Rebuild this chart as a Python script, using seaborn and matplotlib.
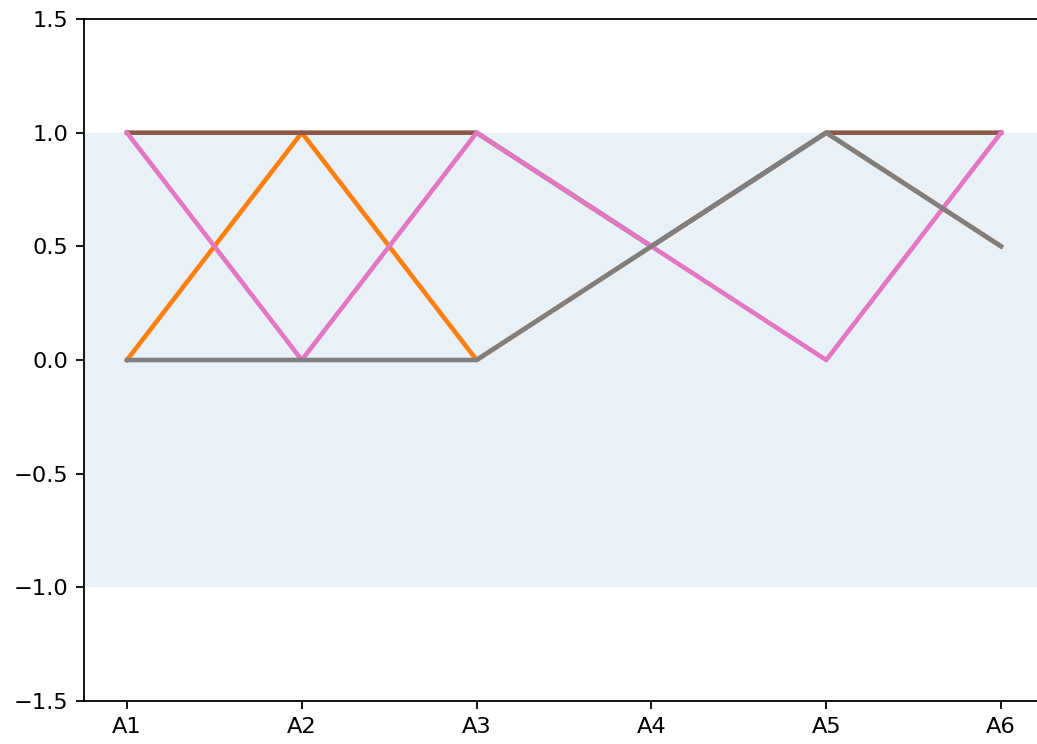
import matplotlib
matplotlib.use("Agg")
import matplotlib.pyplot as plt
import seaborn as sns
import pandas as pd

axes_labels = ["A1", "A2", "A3", "A4", "A5", "A6"]
series_names = ["s1", "s5", "s6", "s7"]
series_orange = [0, 1, 0, 0.5, 1, 0.5]
series_brown = [1, 1, 1, 0.5, 1, 1]
series_pink = [1, 0, 1, 0.5, 0, 1]
series_gray = [0, 0, 0, 0.5, 1, 0.5]
series_colors = ["#ff7f0e", "#8c564b", "#e377c2", "#7f7f7f"]

all_values = [series_orange, series_brown, series_pink, series_gray]
rows = []
for name, vals in zip(series_names, all_values):
    for i, v in enumerate(vals):
        rows.append({"series": name, "pos": i, "value": v})
df = pd.DataFrame(rows)

s = 1.62
plt.rcParams.update({
    "font.size": 10 * s,
    "axes.linewidth": 0.8 * s,
    "xtick.major.size": 3.5 * s,
    "ytick.major.size": 3.5 * s,
    "xtick.major.width": 0.8 * s,
    "ytick.major.width": 0.8 * s,
    "xtick.major.pad": 3.5 * s,
    "ytick.major.pad": 3.5 * s,
})

fig = plt.figure(figsize=(10.37, 7.44), dpi=100)
W, H = 1037, 744
ax = fig.add_axes([84 / W, (H - 701) / H, (1045 - 84) / W, (701 - 19) / H])

ax.axhspan(-1, 1, color="#1f77b4", alpha=0.1, lw=0, zorder=0)

sns.lineplot(data=df, x="pos", y="value", hue="series", hue_order=series_names,
             palette=series_colors, linewidth=3.3, legend=False, ax=ax,
             estimator=None, sort=False)

ax.set_xticks(range(len(axes_labels)))
ax.set_xticklabels(axes_labels)
ax.set_xlim(-0.246, 5.2 + 9 / 174.6)
ax.set_ylim(-1.5, 1.5)
ax.set_yticks([-1.5, -1.0, -0.5, 0.0, 0.5, 1.0, 1.5])
ax.set_xlabel("")
ax.set_ylabel("")
ax.spines["right"].set_visible(False)

fig.savefig("out.png", dpi=100)
